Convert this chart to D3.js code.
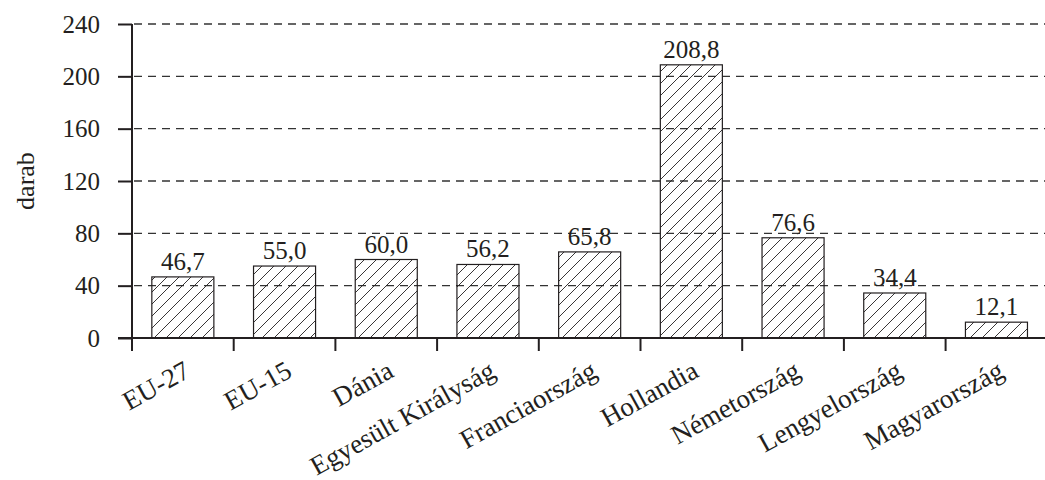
<!DOCTYPE html>
<html>
<head>
<meta charset="utf-8">
<script src="https://cdn.jsdelivr.net/npm/d3@7"></script>
<style>
  html, body { margin: 0; padding: 0; background: #fff; }
  text { font-family: "Liberation Serif", "Times New Roman", serif; fill: #231f20; }
</style>
</head>
<body>
<svg id="chart" width="1045" height="480"></svg>
<script>
const categories = ["EU-27", "EU-15", "Dánia", "Egyesült Királyság", "Franciaország", "Hollandia", "Németország", "Lengyelország", "Magyarország"];
const values = [46.7, 55.0, 60.0, 56.2, 65.8, 208.8, 76.6, 34.4, 12.1];
const yTicks = [0, 40, 80, 120, 160, 200, 240];
const yTitle = "darab";

const svg = d3.select("#chart");
const W = 1045, H = 480;
const x0 = 132, x1 = 132 + 9 * 101.7;
const y0 = 338, yTop = 24;
const ink = "#231f20";
const FS = "25px";

const x = d3.scaleBand().domain(categories).range([x0, x1]).paddingInner(0.39).paddingOuter(0.195);
const xb = d3.scaleBand().domain(categories).range([x0, x1]);
const y = d3.scaleLinear().domain([0, 240]).range([y0, yTop]);

const defs = svg.append("defs");
const pat = defs.append("pattern").attr("id", "hatch").attr("patternUnits", "userSpaceOnUse")
  .attr("width", 12).attr("height", 12);
pat.append("path").attr("d", "M0,12 L12,0 M-3,3 L3,-3 M9,15 L15,9")
  .attr("stroke", ink).attr("stroke-width", 0.9).attr("fill", "none");

// gridlines
svg.append("g").selectAll("line").data(yTicks.filter(d => d > 0)).join("line")
  .attr("x1", x0 + 2).attr("x2", W).attr("y1", d => y(d)).attr("y2", d => y(d))
  .attr("stroke", "#333").attr("stroke-width", 1.3).attr("stroke-dasharray", "8,6");

// bars
svg.append("g").selectAll("rect").data(values).join("rect")
  .attr("x", (d, i) => x(categories[i])).attr("width", x.bandwidth())
  .attr("y", d => y(d)).attr("height", d => y0 - y(d))
  .attr("fill", "url(#hatch)").attr("stroke", ink).attr("stroke-width", 1.2);

// value labels
svg.append("g").selectAll("text").data(values).join("text")
  .attr("x", (d, i) => x(categories[i]) + x.bandwidth() / 2)
  .attr("y", d => y(d) - 7)
  .attr("text-anchor", "middle").style("font-size", FS)
  .text(d => d.toFixed(1).replace(".", ","));

// y axis
const yAxis = svg.append("g").attr("transform", `translate(${x0},0)`)
  .call(d3.axisLeft(y).tickValues(yTicks).tickSize(14).tickPadding(18).tickFormat(d3.format("d")));
yAxis.select(".domain").attr("stroke", ink).attr("stroke-width", 2).attr("d", `M0,${yTop}V${y0}`);
yAxis.selectAll(".tick line").attr("stroke", ink).attr("stroke-width", 2);
yAxis.selectAll(".tick text").style("font-size", FS).attr("fill", ink)
  .style("font-family", '"Liberation Serif", serif');

// x axis
const xAxis = svg.append("g").attr("transform", `translate(0,${y0})`)
  .call(d3.axisBottom(xb).tickSize(0).tickFormat(""));
xAxis.select(".domain").attr("stroke", ink).attr("stroke-width", 2).attr("d", `M${x0 - 14},0H${W}`);
svg.append("g").selectAll("line").data(d3.range(categories.length + 1)).join("line")
  .attr("x1", i => xb.step() * i + x0).attr("x2", i => xb.step() * i + x0)
  .attr("y1", y0).attr("y2", y0 + 13).attr("stroke", ink).attr("stroke-width", 2);

// x labels
svg.append("g").selectAll("text").data(categories).join("text")
  .attr("transform", d => `translate(${xb(d) + xb.bandwidth() / 2 + 9},${y0 + 38}) rotate(-29)`)
  .attr("text-anchor", "end").style("font-size", "27px").text(d => d);

// y title
svg.append("text").attr("transform", `translate(34,${y(120)}) rotate(-90)`)
  .attr("text-anchor", "middle").style("font-size", "26px").text(yTitle);
</script>
</body>
</html>
